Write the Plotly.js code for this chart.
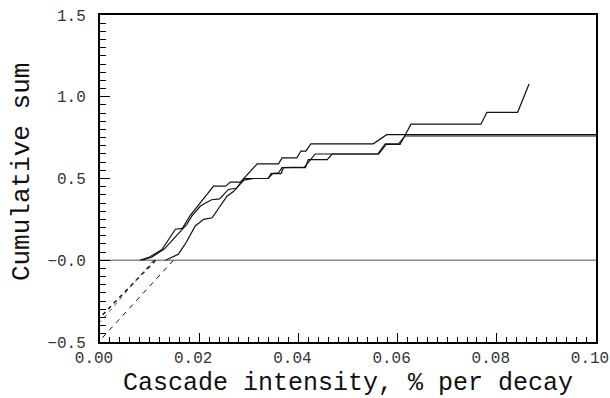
<!DOCTYPE html>
<html>
<head>
<meta charset="utf-8">
<script src="https://cdn.plot.ly/plotly-3.0.1.min.js"></script>
<style>html,body{margin:0;padding:0;background:#fff}#chart{width:610px;height:398px}</style>
</head>
<body>
<div id="chart"></div>
<script>
// Cumulative sum curves
const curveA_x = [0.0080, 0.0100, 0.0125, 0.0152, 0.0166, 0.0182, 0.0229, 0.0253, 0.0263, 0.0283, 0.0317, 0.0360, 0.0367, 0.0397, 0.0405, 0.0415, 0.0425, 0.0551, 0.0578, 0.1000];
const curveA_y = [0.000, 0.020, 0.065, 0.190, 0.195, 0.275, 0.453, 0.453, 0.478, 0.478, 0.590, 0.590, 0.626, 0.626, 0.668, 0.668, 0.712, 0.712, 0.768, 0.768];

const curveB_x = [0.0085, 0.0105, 0.0130, 0.0145, 0.0160, 0.0175, 0.0185, 0.0202, 0.0210, 0.0225, 0.0241, 0.0259, 0.0275, 0.0290, 0.0339, 0.0345, 0.0360, 0.0367, 0.0412, 0.0434, 0.0560, 0.0575, 0.0602, 0.0615, 0.1000];
const curveB_y = [0.000, 0.020, 0.070, 0.120, 0.170, 0.220, 0.270, 0.330, 0.345, 0.370, 0.375, 0.433, 0.440, 0.500, 0.500, 0.530, 0.535, 0.566, 0.569, 0.650, 0.650, 0.712, 0.712, 0.760, 0.760];

const curveC_x = [0.0132, 0.0158, 0.0174, 0.0192, 0.0209, 0.0226, 0.0256, 0.0269, 0.0290, 0.0310, 0.0339, 0.0348, 0.0365, 0.0370, 0.0414, 0.0420, 0.0458, 0.0468, 0.0562, 0.0577, 0.0605, 0.0627, 0.0768, 0.0780, 0.0842, 0.0865];
const curveC_y = [0.000, 0.037, 0.110, 0.210, 0.250, 0.260, 0.392, 0.420, 0.490, 0.500, 0.500, 0.530, 0.530, 0.566, 0.566, 0.616, 0.616, 0.650, 0.650, 0.708, 0.708, 0.832, 0.832, 0.905, 0.905, 1.078];

// Dashed extrapolations to zero intensity
const dashA_x = [0.0112, 0.0];
const dashA_y = [0.0, -0.35];
const dashB_x = [0.0108, 0.0];
const dashB_y = [0.0, -0.38];
const dashC_x = [0.0148, 0.0];
const dashC_y = [0.0, -0.49];

// Zero reference line
const zero_x = [0.0, 0.1];
const zero_y = [0.0, 0.0];

// Tick labels and titles
const xTickVals = [0, 0.02, 0.04, 0.06, 0.08, 0.10];
const xTickText = ["0.00", "0.02", "0.04", "0.06", "0.08", "0.10"];
const yTickVals = [-0.5, 0, 0.5, 1.0, 1.5];
const yTickText = ["\u22120.5", "\u22120.0", "0.5", "1.0", "1.5"];
const xTitle = 'Cascade intensity, % per decay';
const yTitle = 'Cumulative sum';

const FONT = "'Liberation Mono', 'Courier New', monospace";
const solid = {color: '#111', width: 1.2};
const traces = [
  {x: zero_x, y: zero_y, mode: 'lines', line: {color: '#8a8a8a', width: 1.4}},
  {x: dashA_x, y: dashA_y, mode: 'lines', line: {color: '#111', width: 1.5, dash: '4px,4px'}},
  {x: dashB_x, y: dashB_y, mode: 'lines', line: {color: '#555', width: 1, dash: '4px,4px'}},
  {x: dashC_x, y: dashC_y, mode: 'lines', line: {color: '#111', width: 1, dash: '5px,5px'}},
  {x: curveA_x, y: curveA_y, mode: 'lines', line: solid},
  {x: curveB_x, y: curveB_y, mode: 'lines', line: solid},
  {x: curveC_x, y: curveC_y, mode: 'lines', line: solid}
];

const layout = {
  width: 610, height: 398,
  margin: {l: 100, r: 14, t: 15, b: 56},
  paper_bgcolor: '#fff', plot_bgcolor: '#fff',
  showlegend: false,
  font: {family: FONT, color: '#222'},
  xaxis: {
    range: [0, 0.1], showgrid: false, zeroline: false,
    showline: true, linecolor: '#000', linewidth: 2, mirror: true,
    tickmode: 'array', tickvals: xTickVals, ticktext: xTickText,
    ticks: 'inside', ticklen: 9, tickwidth: 1, tickcolor: '#000',
    minor: {dtick: 0.002, ticks: 'inside', ticklen: 5, tickwidth: 1, tickcolor: '#000'},
    tickfont: {family: FONT, size: 16, color: '#333'},
    ticklabelstandoff: 0, ticklabelshift: -6, ticklabeloverflow: 'allow',
    automargin: false
  },
  yaxis: {
    range: [-0.5, 1.5], showgrid: false, zeroline: false,
    showline: true, linecolor: '#000', linewidth: 2, mirror: true,
    tickmode: 'array', tickvals: yTickVals, ticktext: yTickText,
    ticks: 'inside', ticklen: 10, tickwidth: 1, tickcolor: '#000',
    minor: {dtick: 0.05, ticks: 'inside', ticklen: 6, tickwidth: 1, tickcolor: '#000'},
    tickfont: {family: FONT, size: 16, color: '#333'},
    ticklabelstandoff: 9, ticklabeloverflow: 'allow',
    automargin: false
  },
  annotations: [
    {text: xTitle, xref: 'paper', yref: 'paper', x: 0.5, y: -0.127, xanchor: 'center', yanchor: 'middle',
     showarrow: false, font: {family: FONT, size: 25, color: '#111'}},
    {text: yTitle, xref: 'paper', yref: 'paper', x: -0.157, y: 0.52, xanchor: 'center', yanchor: 'middle',
     textangle: -90, showarrow: false, font: {family: FONT, size: 26, color: '#111'}}
  ]
};

Plotly.newPlot('chart', traces, layout, {displayModeBar: false, staticPlot: true});
</script>
</body>
</html>
